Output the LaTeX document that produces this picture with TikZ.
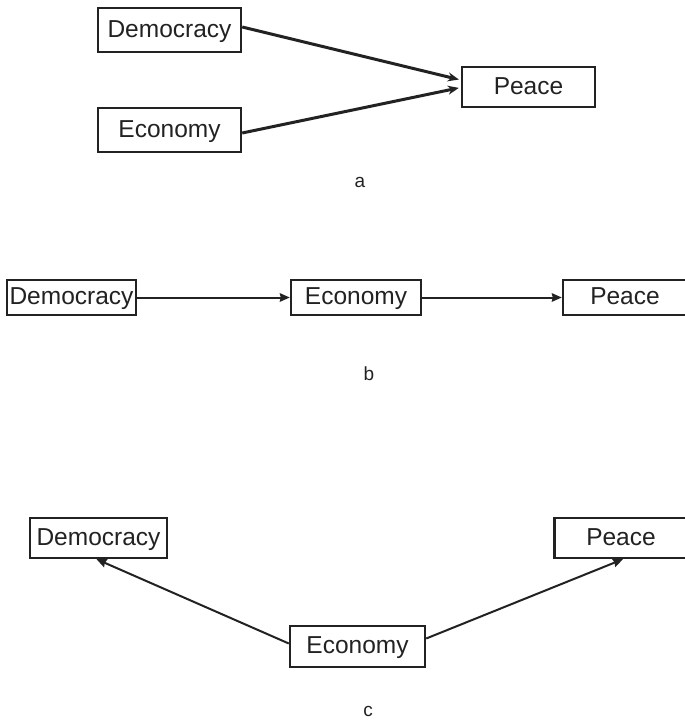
\documentclass[tikz,border=0pt]{standalone}
\usepackage{fontspec}
\setmainfont{Liberation Sans}
\usetikzlibrary{arrows.meta}
\definecolor{ink}{HTML}{222222}
\begin{document}
\begin{tikzpicture}[x=1pt,y=-1pt,
  box/.style={draw=ink,line width=2.4pt,inner sep=0pt,text=ink,
    text height=18pt,text depth=4pt,
    font=\fontsize{24.5}{29}\selectfont},
  thickarr/.style={draw=ink,line width=3pt,-{Stealth[length=11pt,width=9pt]}},
  thinarr/.style={draw=ink,line width=2pt,-{Stealth[length=10pt,width=8.5pt,inset=1pt]}},
  lab/.style={text=ink,anchor=base,inner sep=0pt,font=\fontsize{19}{22}\selectfont}]
\useasboundingbox (0,0) rectangle (685,720);
% panel a
\node[box,minimum width=143pt,minimum height=44pt] (DA) at (169.5,30) {Democracy};
\node[box,minimum width=143pt,minimum height=44pt] (EA) at (169.5,130) {Economy};
\node[box,minimum width=133pt,minimum height=40pt] (PA) at (528.5,87) {Peace};
\draw[thickarr,shorten >=2pt] ([yshift=3pt]DA.east) -- ([yshift=7pt]PA.west);
\draw[thickarr,shorten >=2pt] ([yshift=-3pt]EA.east) -- ([yshift=-0.5pt]PA.west);
\node[lab] (la) at (360,187) {a};
% panel b
\node[box,minimum width=129pt,minimum height=35pt] (DB) at (71.5,297.5) {Democracy};
\node[box,minimum width=130pt,minimum height=35pt] (EB) at (356,297.5) {Economy};
\node[box,minimum width=124pt,minimum height=35pt] (PB) at (625,297.5) {Peace};
\draw[thinarr] (DB.east) -- (EB.west);
\draw[thinarr] (EB.east) -- (PB.west);
\node[lab] (lb) at (369,380) {b};
% panel c
\node[box,minimum width=137pt,minimum height=40pt] (DC) at (98.5,538) {Democracy};
\node[box,minimum width=133pt,minimum height=40pt] (PC) at (621,538) {Peace};
\node[box,minimum width=135pt,minimum height=41pt] (EC) at (357.5,646.5) {Economy};
\draw[thinarr] ([yshift=3pt]EC.west) -- ([xshift=-2pt]DC.south);
\draw[thinarr] ([yshift=8pt]EC.east) -- ([xshift=2pt]PC.south);
\node[lab] (lc) at (368,716) {c};
\end{tikzpicture}
\end{document}
